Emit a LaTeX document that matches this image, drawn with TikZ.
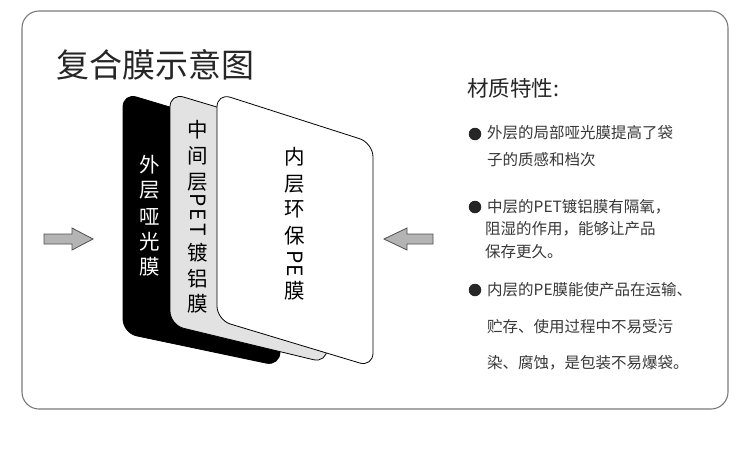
\documentclass[tikz,border=0pt]{standalone}
\usepackage{fontspec}
\newfontfamily\cjk{Noto Sans CJK SC}
\definecolor{framecol}{HTML}{7A7A7A}
\definecolor{txtcol}{HTML}{262626}
\definecolor{bodycol}{HTML}{383838}
\definecolor{panelgrey}{HTML}{E2E2E2}
\definecolor{arrowfill}{HTML}{B4B4B4}
\definecolor{arrowline}{HTML}{505050}
\tikzset{
  paneltxt/.style={inner sep=0pt, font=\cjk\fontsize{20.5}{20.5}\selectfont},
  latintxt/.style={inner sep=0pt, rotate=-90, font=\cjk\fontsize{21}{21}\selectfont},
  bodytxt/.style={anchor=west, inner sep=0pt, text=bodycol, font=\cjk\fontsize{15.5}{15.5}\selectfont},
  bulletdot/.style={circle, fill=txtcol, inner sep=0pt, minimum size=12.5pt},
  blockarrow/.style={fill=arrowfill, draw=arrowline, line width=0.8pt, line join=miter},
  panel/.style={rounded corners=14pt, line width=0.8pt}
}
\begin{document}
\begin{tikzpicture}[x=1pt,y=-1pt]
\useasboundingbox (0,0) rectangle (750,450);
\fill[white] (0,0) rectangle (750,450);
% frame
\draw[framecol, line width=1.1pt, rounded corners=17pt] (22,11) rectangle (728,409);
% title
\node[anchor=west, inner sep=0pt, text=txtcol, font=\cjk\fontsize{33}{33}\selectfont] (title) at (56,65) {复合膜示意图};
% panels
\filldraw[panel, fill=black, draw=black] (123,93) -- (280,140) -- (280,366) -- (123,333) -- cycle;
\filldraw[panel, fill=panelgrey, draw=black] (170,93) -- (327,140) -- (327,363) -- (170,325) -- cycle;
\filldraw[panel, fill=white, draw=black] (217,93) -- (373,143) -- (373,367) -- (217,320) -- cycle;
% black panel text
\foreach \c/\y [count=\i] in {外/165,层/190,哑/217,光/242,膜/267}
  \node[paneltxt, text=white] (b\i) at (150,\y) {\c};
% grey panel text
\foreach \c/\y [count=\i] in {中/130,间/156,层/182,镀/253,铝/279,膜/304}
  \node[paneltxt, text=black] (g\i) at (198,\y) {\c};
\foreach \c/\y [count=\i] in {P/200,E/215,T/230}
  \node[latintxt, text=black] (gl\i) at (198,\y) {\c};
% white panel text
\foreach \c/\y [count=\i] in {内/157,层/184,环/209,保/236,膜/291}
  \node[paneltxt, text=black] (w\i) at (295,\y) {\c};
\foreach \c/\y [count=\i] in {P/257,E/271}
  \node[latintxt, text=black] (wl\i) at (295,\y) {\c};
% arrows
\filldraw[blockarrow] (44,234) -- (72,234) -- (72,228) -- (93,239) -- (72,250) -- (72,244) -- (44,244) -- cycle;
\filldraw[blockarrow] (433,234) -- (407,234) -- (407,228) -- (384,239) -- (407,250) -- (407,244) -- (433,244) -- cycle;
% right side
\node[anchor=west, inner sep=0pt, text=txtcol, font=\cjk\fontsize{21.5}{21.5}\selectfont] (head) at (467,88) {材质特性:};
\node[bulletdot] (d1) at (475,134) {};
\node[bulletdot] (d2) at (475,207) {};
\node[bulletdot] (d3) at (475,290) {};
\node[bodytxt] (t1a) at (487,133) {外层的局部哑光膜提高了袋};
\node[bodytxt] (t1b) at (487,160) {子的质感和档次};
\node[bodytxt] (t2a) at (487,207) {中层的PET镀铝膜有隔氧，};
\node[bodytxt] (t2b) at (485,229) {阻湿的作用，能够让产品};
\node[bodytxt] (t2c) at (485,252) {保存更久。};
\node[bodytxt] (t3a) at (487,290) {内层的PE膜能使产品在运输、};
\node[bodytxt] (t3b) at (487,327) {贮存、使用过程中不易受污};
\node[bodytxt] (t3c) at (487,363) {染、腐蚀，是包装不易爆袋。};
\end{tikzpicture}
\end{document}
